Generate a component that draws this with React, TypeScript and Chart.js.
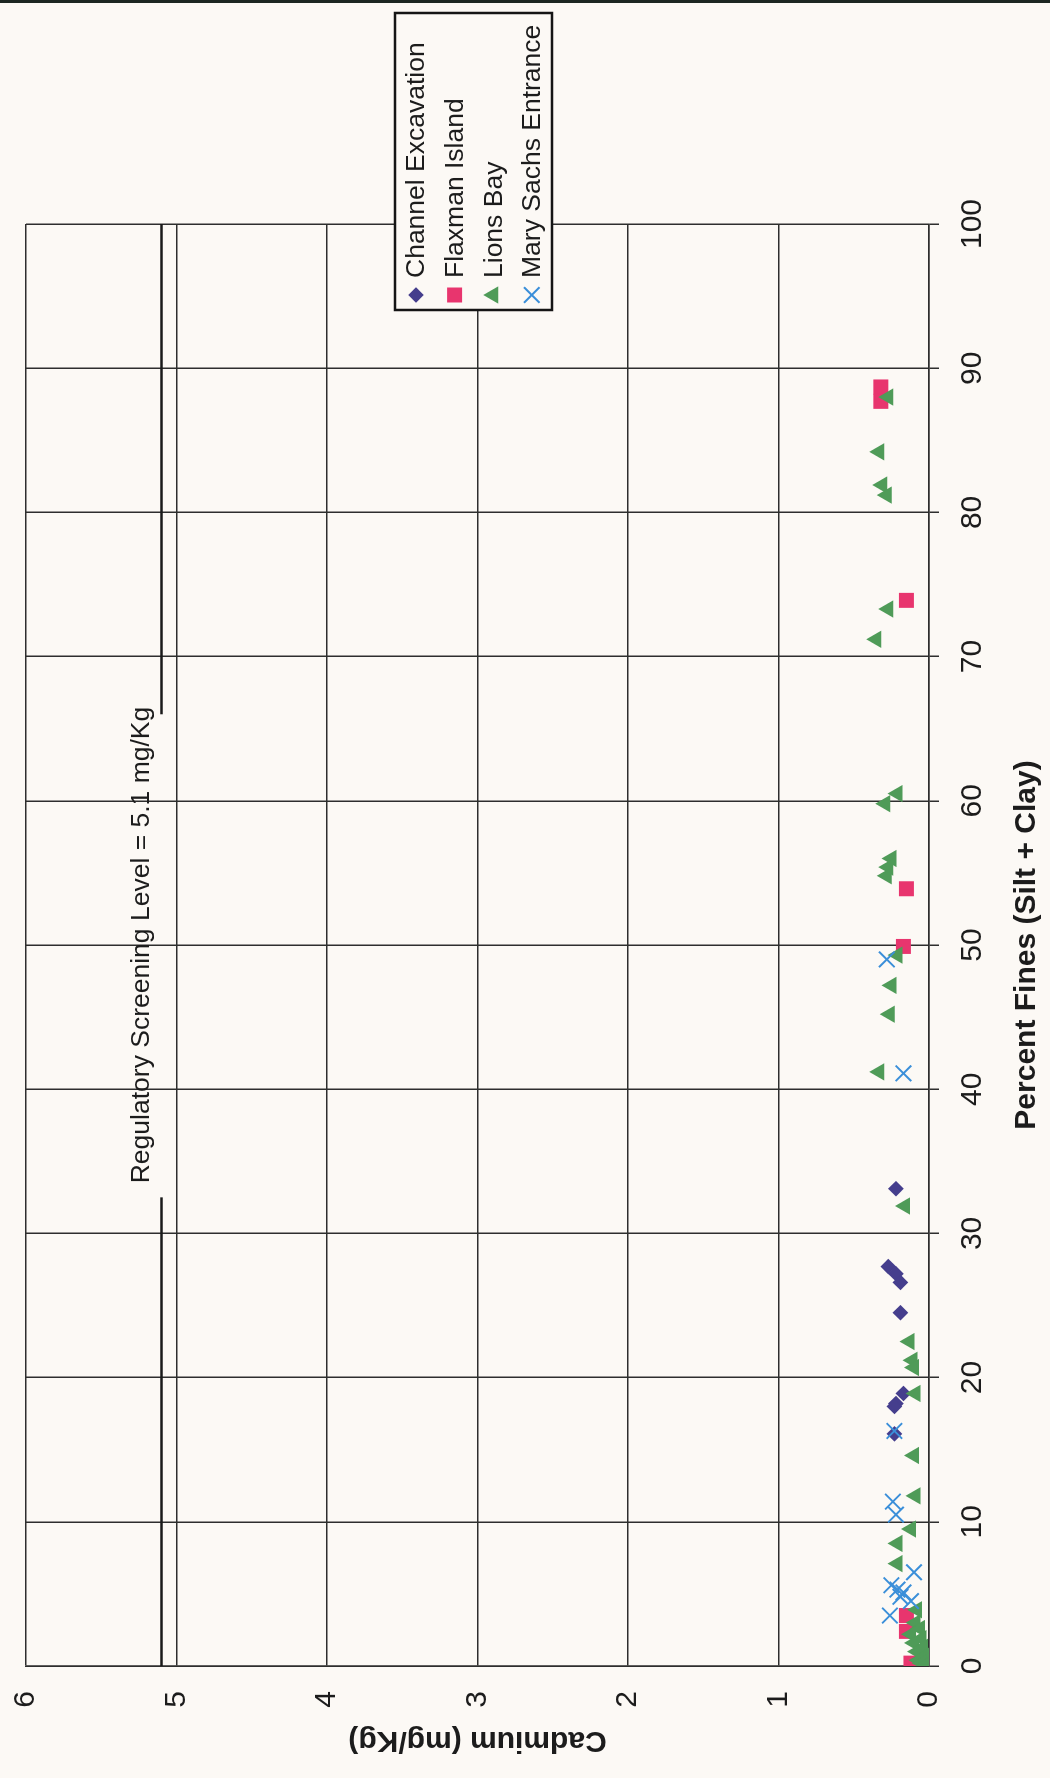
import { useEffect, useRef } from 'react';
import { Chart, registerables } from 'chart.js';

Chart.register(...registerables);

// ---- data -------------------------------------------------------------
const seriesNames = ['Channel Excavation', 'Flaxman Island', 'Lions Bay', 'Mary Sachs Entrance'];

const channelFines = [33.1, 27.7, 27.2, 26.6, 24.5, 18.9, 18.2, 18.0, 16.1];
const channelCadmium = [0.22, 0.27, 0.22, 0.19, 0.19, 0.17, 0.22, 0.23, 0.23];

const flaxmanFines = [88.7, 87.7, 73.9, 53.9, 49.9, 3.5, 2.4, 0.2];
const flaxmanCadmium = [0.32, 0.32, 0.15, 0.15, 0.17, 0.15, 0.15, 0.12];

const lionsFines = [
  88.0, 84.2, 81.9, 81.2, 73.3, 71.2, 60.5, 59.8, 56.0, 55.4, 54.8, 49.3, 47.2, 45.2, 41.2,
  31.9, 22.5, 21.2, 20.7, 18.9, 14.6, 11.8, 9.5, 8.5, 7.1, 3.9, 3.0, 2.6, 2.2, 1.9, 1.6,
  1.3, 1.0, 0.7, 0.4, 0.2, 0.1,
];
const lionsCadmium = [
  0.27, 0.33, 0.31, 0.28, 0.27, 0.35, 0.21, 0.29, 0.25, 0.27, 0.28, 0.21, 0.25, 0.26, 0.33,
  0.16, 0.13, 0.11, 0.10, 0.09, 0.10, 0.09, 0.12, 0.21, 0.21, 0.08, 0.09, 0.06, 0.12, 0.05, 0.10,
  0.04, 0.08, 0.03, 0.07, 0.05, 0.02,
];

const marySachsFines = [49.0, 41.1, 16.3, 11.4, 10.5, 6.5, 5.6, 5.3, 5.1, 4.8, 4.5, 3.5];
const marySachsCadmium = [0.28, 0.17, 0.23, 0.24, 0.22, 0.10, 0.25, 0.21, 0.17, 0.19, 0.12, 0.26];

const finesMin = 0;
const finesMax = 100;
const finesStep = 10;
const cadmiumMin = 0;
const cadmiumMax = 6;
const cadmiumStep = 1;

const screeningLevel = 5.1;
const screeningLabel = 'Regulatory Screening Level = 5.1 mg/Kg';
const screeningBreakFrom = 32.5;
const screeningBreakTo = 66;
const screeningLabelAt = 50;

const xTitle = 'Percent Fines (Silt + Clay)';
const yTitle = 'Cadmium (mg/Kg)';

// ---- styling ----------------------------------------------------------
const W = 1778; // drawn landscape, then turned a quarter to stand upright
const H = 1050;
const PAPER = '#fcf9f5';
const INK = '#1c1c1c';
const GRID = '#2e2e2e';
const FONT = '"Liberation Sans", Arial, Helvetica, sans-serif';

const COLORS = ['#453e8d', '#e8356e', '#4f9b58', '#3b8fd9'];
const STYLES = ['rectRot', 'rect', 'triangle', 'crossRot'];
const RADII = [7.8, 10.6, 10, 11];

const toPoints = (xs: number[], ys: number[]) => xs.map((x, i) => ({ x, y: ys[i] }));

function drawMarker(ctx: CanvasRenderingContext2D, idx: number, x: number, y: number) {
  const r = RADII[idx];
  const c = COLORS[idx];
  ctx.save();
  ctx.fillStyle = c;
  ctx.strokeStyle = c;
  ctx.beginPath();
  if (idx === 0) {
    ctx.moveTo(x, y - r);
    ctx.lineTo(x + r, y);
    ctx.lineTo(x, y + r);
    ctx.lineTo(x - r, y);
    ctx.closePath();
    ctx.fill();
  } else if (idx === 1) {
    const s = r * Math.SQRT1_2;
    ctx.rect(x - s, y - s, 2 * s, 2 * s);
    ctx.fill();
  } else if (idx === 2) {
    for (let k = 0; k < 3; k++) {
      const a = (k * 2 * Math.PI) / 3;
      const px = x + Math.sin(a) * r;
      const py = y - Math.cos(a) * r;
      if (k === 0) ctx.moveTo(px, py);
      else ctx.lineTo(px, py);
    }
    ctx.closePath();
    ctx.fill();
  } else {
    const d = r * Math.SQRT1_2;
    ctx.lineWidth = 2;
    ctx.moveTo(x - d, y - d);
    ctx.lineTo(x + d, y + d);
    ctx.moveTo(x - d, y + d);
    ctx.lineTo(x + d, y - d);
    ctx.stroke();
  }
  ctx.restore();
}

const overlayPlugin = {
  id: 'overlay',
  afterDatasetsDraw(chart: any) {
    const ctx: CanvasRenderingContext2D = chart.ctx;
    const xs = chart.scales.x;
    const ys = chart.scales.y;

    // screening level caption, sitting in the break of the line
    ctx.save();
    ctx.font = `26.5px ${FONT}`;
    ctx.fillStyle = INK;
    ctx.textAlign = 'center';
    ctx.textBaseline = 'alphabetic';
    ctx.fillText(screeningLabel, xs.getPixelForValue(screeningLabelAt), ys.getPixelForValue(screeningLevel) - 12);
    ctx.restore();

    // legend box, overlapping the plot edge
    const left = 1468;
    const top = 395;
    const bw = 297;
    const bh = 157;
    ctx.save();
    ctx.fillStyle = PAPER;
    ctx.fillRect(left, top, bw, bh);
    ctx.strokeStyle = '#151515';
    ctx.lineWidth = 2.5;
    ctx.strokeRect(left, top, bw, bh);
    ctx.font = `26.5px ${FONT}`;
    ctx.textAlign = 'left';
    ctx.textBaseline = 'middle';
    seriesNames.forEach((name, i) => {
      const cy = top + 21 + i * 38.6;
      drawMarker(ctx, i, left + 15, cy);
      ctx.fillStyle = INK;
      ctx.fillText(name, left + 32, cy + 1);
    });
    ctx.restore();
  },
};

export default function App() {
  const canvasRef = useRef<HTMLCanvasElement | null>(null);

  useEffect(() => {
    const canvas = canvasRef.current;
    if (!canvas) return;

    const series = [
      toPoints(channelFines, channelCadmium),
      toPoints(flaxmanFines, flaxmanCadmium),
      toPoints(lionsFines, lionsCadmium),
      toPoints(marySachsFines, marySachsCadmium),
    ];

    const scatterSets = series.map((data, i) => ({
      type: 'scatter' as const,
      label: seriesNames[i],
      data,
      order: 4 - i,
      pointStyle: STYLES[i],
      pointRadius: RADII[i],
      pointHoverRadius: RADII[i],
      backgroundColor: COLORS[i],
      borderColor: COLORS[i],
      pointBorderWidth: i === 3 ? 2 : 0,
      showLine: false,
    }));

    const screeningLine = {
      type: 'line' as const,
      label: 'screening',
      data: [
        { x: finesMin, y: screeningLevel },
        { x: screeningBreakFrom, y: screeningLevel },
        { x: screeningLabelAt, y: null },
        { x: screeningBreakTo, y: screeningLevel },
        { x: finesMax, y: screeningLevel },
      ],
      order: 0,
      borderColor: '#1a1a1a',
      borderWidth: 2.5,
      pointRadius: 0,
      spanGaps: false,
      fill: false,
    };

    const chart = new Chart(canvas, {
      type: 'scatter',
      data: { datasets: [...scatterSets, screeningLine] as any },
      plugins: [overlayPlugin],
      options: {
        responsive: false,
        animation: false,
        devicePixelRatio: 1,
        layout: { padding: { left: 0, top: 26, right: 224, bottom: 0 } },
        plugins: {
          legend: { display: false },
          tooltip: { enabled: false },
        },
        scales: {
          x: {
            type: 'linear',
            position: 'bottom',
            min: finesMin,
            max: finesMax,
            ticks: {
              stepSize: finesStep,
              color: INK,
              font: { family: FONT, size: 30 },
              padding: 16,
              maxRotation: 0,
              minRotation: 0,
              autoSkip: false,
            },
            grid: { color: GRID, lineWidth: 1.5, tickLength: 10, drawTicks: true },
            border: { color: GRID, width: 1.5 },
            title: {
              display: true,
              text: xTitle,
              color: INK,
              font: { family: FONT, size: 30, weight: 'bold' },
              padding: 5,
            },
            afterFit: (s: any) => {
              s.height = 121;
            },
          },
          y: {
            type: 'linear',
            min: cadmiumMin,
            max: cadmiumMax,
            ticks: {
              stepSize: cadmiumStep,
              color: INK,
              font: { family: FONT, size: 30 },
              padding: 25,
            },
            grid: { color: GRID, lineWidth: 1.5, drawTicks: false },
            border: { color: GRID, width: 1.5 },
            title: {
              display: true,
              text: yTitle,
              color: INK,
              font: { family: FONT, size: 30, weight: 'bold' },
              padding: 20,
            },
            afterFit: (s: any) => {
              s.width = 112;
              // the outer layout padding already leaves room for the end labels
              s.paddingTop = 0;
              s.paddingBottom = 0;
            },
          },
        },
      } as any,
    });

    return () => chart.destroy();
  }, []);

  return (
    <div
      style={{
        position: 'absolute',
        left: 0,
        top: 0,
        width: 1050,
        height: 1778,
        overflow: 'hidden',
        background: PAPER,
      }}
    >
      <div
        style={{
          position: 'absolute',
          left: 0,
          top: 0,
          width: W,
          height: H,
          transformOrigin: '0 0',
          transform: `translateY(${W}px) rotate(-90deg)`,
        }}
      >
        <canvas ref={canvasRef} width={W} height={H} style={{ width: W, height: H, display: 'block' }} />
      </div>
      <div
        style={{
          position: 'absolute',
          left: 0,
          top: 0,
          width: 1050,
          height: 3,
          background: '#1d2621',
        }}
      />
    </div>
  );
}
